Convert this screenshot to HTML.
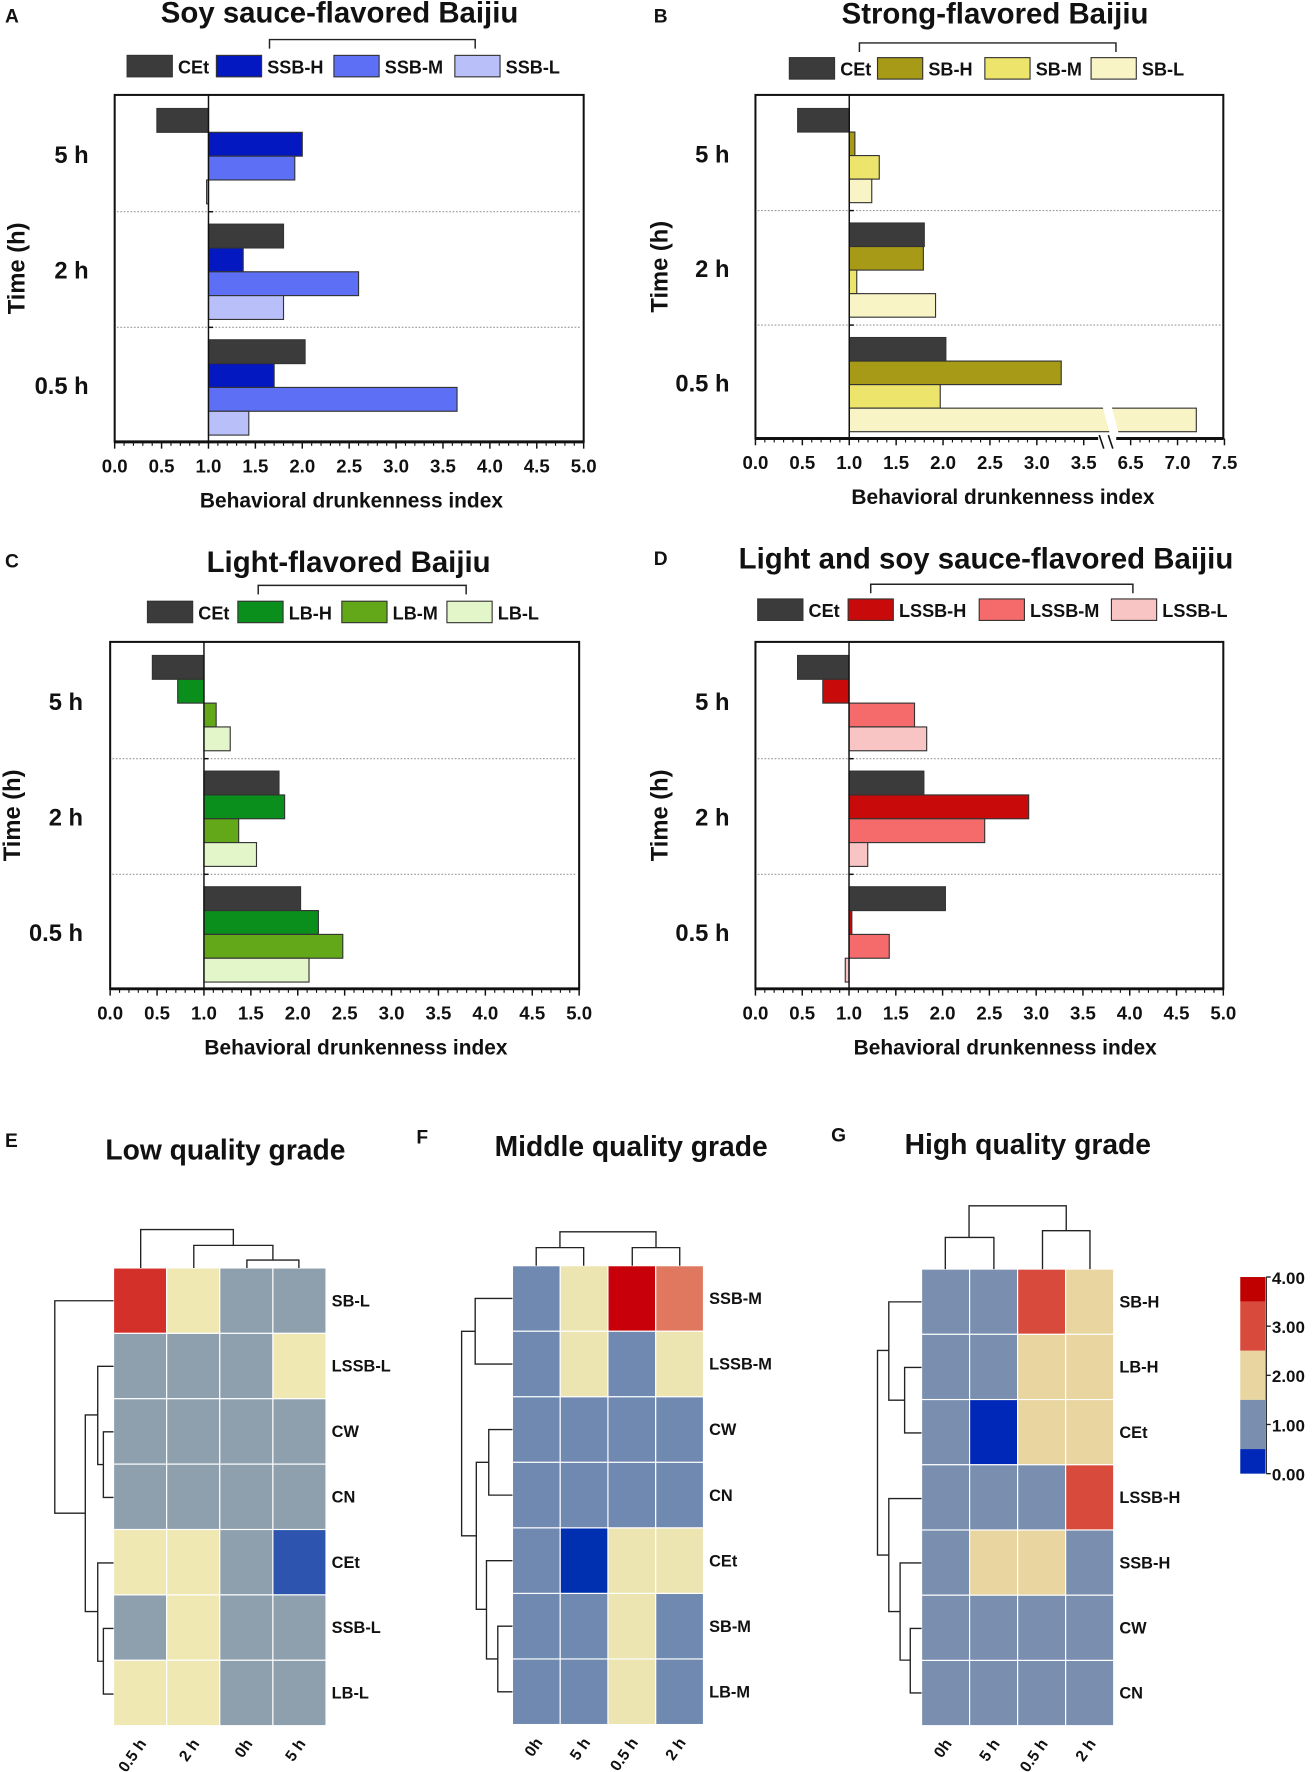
<!DOCTYPE html>
<html><head><meta charset="utf-8"><style>
html,body{margin:0;padding:0;background:#fff}
svg{display:block;font-family:"Liberation Sans",Arial,sans-serif}
text{font-weight:bold;fill:#111}
</style></head><body>
<svg id="fig" width="1312" height="1772" viewBox="0 0 1160 1568" xmlns="http://www.w3.org/2000/svg"></svg>
<script>
// ---------- Bar chart data ----------
const timeLabels = ["5 h","2 h","0.5 h"];
const seriesA = ["CEt","SSB-H","SSB-M","SSB-L"];
const valsA = [[0.45,2.0,1.92,0.98],[1.8,1.37,2.6,1.8],[2.03,1.7,3.65,1.43]];
const seriesB = ["CEt","SB-H","SB-M","SB-L"];
const valsB = [[0.45,1.06,1.32,1.24],[1.8,1.79,1.08,1.92],[2.03,3.26,1.97,7.2]];
const seriesC = ["CEt","LB-H","LB-M","LB-L"];
const valsC = [[0.45,0.72,1.13,1.28],[1.8,1.86,1.37,1.56],[2.03,2.22,2.48,2.12]];
const seriesD = ["CEt","LSSB-H","LSSB-M","LSSB-L"];
const valsD = [[0.45,0.72,1.7,1.83],[1.8,2.92,2.45,1.2],[2.03,1.03,1.43,0.96]];
const ticksStd = [0,0.5,1,1.5,2,2.5,3,3.5,4,4.5,5];
const ticksB = [0,0.5,1,1.5,2,2.5,3,3.5,6.5,7,7.5];
// ---------- Heatmap data ----------
const rowsE = ["SB-L","LSSB-L","CW","CN","CEt","SSB-L","LB-L"];
const colsE = ["0.5 h","2 h","0h","5 h"];
const valsE = [[3.2,1.9,1,1],[1,1,1,1.9],[1,1,1,1],[1,1,1,1],[2.0,1.8,1,0.45],[1.43,1.8,1,0.98],[2.12,1.56,1,1.28]];
const rowsF = ["SSB-M","LSSB-M","CW","CN","CEt","SB-M","LB-M"];
const colsF = ["0h","5 h","0.5 h","2 h"];
const valsF = [[1,1.92,3.65,2.6],[1,1.7,1.43,2.45],[1,1,1,1],[1,1,1,1],[1,0.3,2.03,1.8],[1,1.32,1.97,1.08],[1,1.13,2.48,1.37]];
const rowsG = ["SB-H","LB-H","CEt","LSSB-H","SSB-H","CW","CN"];
const colsG = ["0h","5 h","0.5 h","2 h"];
const valsG = [[1,1.06,3.26,1.79],[1,0.72,2.22,1.86],[1,0.3,2.03,1.8],[1,0.72,1.03,2.92],[1,2.0,1.7,1.37],[1,1,1,1],[1,1,1,1]];
const cbTicks = [4,3,2,1,0];

const NS="http://www.w3.org/2000/svg";
const svg=document.getElementById('fig');
function mk(tag,attrs,parent){const e=document.createElementNS(NS,tag);for(const k in attrs)e.setAttribute(k,attrs[k]);(parent||svg).appendChild(e);return e;}
function txt(s,x,y,size,anchor,parent,extra){const t=mk('text',Object.assign({x:x,y:y,'font-size':size,'text-anchor':anchor||'start'},extra||{}),parent);t.textContent=s;return t;}

function barPanel(o){
  const g=mk('g',{});
  
  
  const L=txt(o.letter,o.lx,o.ly,17,'start',g);
  
  
  const T=txt(o.title,o.tx,o.ty,26,'middle',g);
  
  
  mk('path',{d:`M${o.br[0]},${o.br[2]+8} V${o.br[2]} H${o.br[1]} V${o.br[2]+8}`,fill:'none',stroke:'#222','stroke-width':1.3},g);
  o.series.forEach((s,i)=>{
    const lg=mk('g',{},g);
    
    
    mk('rect',{x:o.legX[i],y:o.legY,width:40,height:19,fill:o.colors[i],stroke:'#333','stroke-width':1},lg);
    txt(s,o.legX[i]+45,o.legY+16,16,'start',lg);
  });
  const X0=o.x0,X1=o.x1,Y0=o.y0,Y1=o.y1,H=Y1-Y0;
  const xs=o.xs;
  [1,2].forEach(k=>{
    const yy=Y0+k*H/3+1;
    const ln=mk('line',{x1:X0+2,x2:X1-2,y1:yy,y2:yy,stroke:'#999','stroke-width':1,'stroke-dasharray':'1.5,1.5'},g);
    
    
  });
  const bh=(H/3-18)/4;
  o.vals.forEach((row,gi)=>{
    row.forEach((v,si)=>{
      const y=Y0+gi*H/3+12+si*bh;
      const xa=xs(1),xb=xs(v);
      const r=mk('rect',{x:Math.min(xa,xb),y:y,width:Math.max(1,Math.abs(xb-xa)),height:bh,fill:o.colors[si],stroke:'#333','stroke-width':1},g);
      
      
      if(o.breakAt && v>o.breakAt[1]){
        const bx=(xs(o.breakAt[0])+xs(o.breakAt[1]))/2;
        mk('polygon',{points:`${bx-6},${y-1} ${bx+2},${y-1} ${bx+8},${y+bh+1} ${bx},${y+bh+1}`,fill:'#fff'},g);
      }
    });
  });
  mk('line',{x1:xs(1),x2:xs(1),y1:Y0,y2:Y1,stroke:'#111','stroke-width':1.3},g);
  [1,2].forEach(k=>{const yy=Y0+k*H/3+1;mk('line',{x1:xs(1),x2:xs(1)+4,y1:yy,y2:yy,stroke:'#111','stroke-width':1.3},g);});
  const fr=mk('rect',{x:X0,y:Y0,width:X1-X0,height:H,fill:'none',stroke:'#111','stroke-width':1.8},g);
  
  
  mk('line',{x1:X0,x2:X1,y1:Y1,y2:Y1,stroke:'#111','stroke-width':2.6},g);
  const ax=mk('g',{},g);
  
  
  o.ticks.forEach((t,i)=>{
    const x=xs(t);
    mk('line',{x1:x,x2:x,y1:Y1,y2:Y1+6,stroke:'#111','stroke-width':1.3},ax);
    txt(t.toFixed(1),x,Y1+27,16.5,'middle',ax);
    if(i<o.ticks.length-1 && o.ticks[i+1]-t<1){
      const n=o.ticks[i+1];
      for(let m=1;m<5;m++){const xm=xs(t+(n-t)*m/5);mk('line',{x1:xm,x2:xm,y1:Y1,y2:Y1+3.5,stroke:'#111','stroke-width':1},ax);}
    }
  });
  if(o.breakAt){
    const bx=(xs(3.5)+xs(6.5))/2;
    mk('rect',{x:bx-8,y:Y1-2,width:16,height:12,fill:'#fff'},g);
    mk('line',{x1:bx-7,x2:bx-3,y1:Y1-3,y2:Y1+9,stroke:'#111','stroke-width':1.4},g);
    mk('line',{x1:bx+1,x2:bx+5,y1:Y1-3,y2:Y1+9,stroke:'#111','stroke-width':1.4},g);
  }
  const xt=txt('Behavioral drunkenness index',(X0+X1)/2+o.xtOff,Y1+58,18.5,'middle',g);
  
  
  timeLabels.forEach((s,gi)=>{
    const yl=txt(s,o.ylx,Y0+gi*H/3+H/6+9,21,'end',g);
    
    
  });
  const yt=txt('Time (h)',0,0,21,'middle',g,{transform:`translate(${o.ytx},${(Y0+Y1)/2}) rotate(-90)`});
  
  
}

function lin(x0,px0,ppu){return v=>px0+(v-x0)*ppu;}
barPanel({name:'panel-a-soy-sauce',letter:'A',lx:4,ly:20,title:'Soy sauce-flavored Baijiu',tx:300,ty:20,br:[238,420,35],
  series:seriesA,vals:valsA,colors:['#3b3b3b','#0418c2','#5c6ff5','#b9bff9'],legX:[112,191,295,402],legY:49,
  x0:101,x1:516,y0:84,y1:391,xs:lin(0,101,83),ticks:ticksStd,ylx:78,ytx:21,xtOff:2});
const xsB=v=> v<=5 ? 668+83*v : 1000+83*(v-6.5);
barPanel({name:'panel-b-strong',letter:'B',lx:578,ly:20,title:'Strong-flavored Baijiu',tx:880,ty:21,br:[760,987,38],
  series:seriesB,vals:valsB,colors:['#3b3b3b','#a69a16','#ede46c','#f8f4c6'],legX:[698,776,871,965],legY:51,
  x0:668,x1:1082,y0:84,y1:388,xs:xsB,ticks:ticksB,ylx:645,ytx:590,xtOff:12,breakAt:[3.75,6.3]});
barPanel({name:'panel-c-light',letter:'C',lx:4,ly:502,title:'Light-flavored Baijiu',tx:308,ty:506,br:[228,412,518],
  series:seriesC,vals:valsC,colors:['#3b3b3b','#0a8f1c','#62a818','#e3f6c9'],legX:[130,210,302,395],legY:532,
  x0:97,x1:512,y0:568,y1:875,xs:lin(0,97,83),ticks:ticksStd,ylx:73,ytx:17,xtOff:10});
barPanel({name:'panel-d-light-soy',letter:'D',lx:578,ly:500,title:'Light and soy sauce-flavored Baijiu',tx:872,ty:503,br:[770,1002,517],
  series:seriesD,vals:valsD,colors:['#3b3b3b','#c80a0a','#f56b6b','#f9c4c4'],legX:[670,750,866,983],legY:530,
  x0:668,x1:1082,y0:568,y1:875,xs:lin(0,668,82.8),ticks:ticksStd,ylx:645,ytx:590,xtOff:14});

// ---------- Heatmaps ----------
function binIdx(v){return v<0.5?0:v<1.5?1:v<2.5?2:v<3.5?3:4;}
function heat(o){
  const g=mk('g',{});
  
  
  const L=txt(o.letter,o.lx,o.ly,17,'start',g);
  
  
  const T=txt(o.title,o.tx,o.ty,25,'middle',g);
  
  
  const cw=(o.x1-o.x0)/o.cols.length, ch=(o.y1-o.y0)/o.rows.length;
  o.vals.forEach((row,ri)=>row.forEach((v,ci)=>{
    const c=mk('rect',{x:o.x0+ci*cw,y:o.y0+ri*ch,width:cw,height:ch,fill:o.pal[binIdx(v)],stroke:'#fff','stroke-width':1},g);
    
    
  }));
  o.rows.forEach((r,ri)=>{
    const t=txt(r,o.x1+5,o.y0+ri*ch+ch/2+5,14.5,'start',g);
    
    
  });
  o.cols.forEach((c,ci)=>{
    const cx=o.x0+ci*cw+cw/2+6;
    const t=txt(c,0,0,14,'end',g,{transform:`translate(${cx},${o.y1+16}) rotate(-55)`});
    
    
  });
  const d=mk('path',{d:o.colD+' '+o.rowD,fill:'none',stroke:'#222','stroke-width':1.2},g);
  
  
}
heat({name:'heatmap-e-low',letter:'E',lx:4,ly:1015,title:'Low quality grade',tx:199,ty:1026,
  rows:rowsE,cols:colsE,vals:valsE,x0:100,x1:288,y0:1122,y1:1527,
  pal:['#2d55b0','#8e9fae','#efe8b3','#d3302a','#c00000'],
  colD:'M218,1122 V1115 H264 V1122 M171,1122 V1102 H241 V1115 M124,1122 V1088 H206 V1102',
  rowD:'M100,1267 H91 V1325 H100 M100,1209 H86 V1296 H91 M100,1441 H91 V1499 H100 M100,1383 H86 V1470 H91 M86,1252 H75 V1426 H86 M100,1151 H48 V1339 H75'});
heat({name:'heatmap-f-middle',letter:'F',lx:368,ly:1012,title:'Middle quality grade',tx:558,ty:1023,
  rows:rowsF,cols:colsF,vals:valsF,x0:453,x1:622,y0:1120,y1:1526,
  pal:['#0030b0','#6f89b0','#ece4b1','#e07860','#c8000a'],
  colD:'M474,1120 V1104 H516 V1120 M559,1120 V1104 H601 V1120 M495,1104 V1090 H580 V1104',
  rowD:'M453,1149 H420 V1207 H453 M453,1265 H432 V1323 H453 M453,1439 H440 V1497 H453 M453,1381 H430 V1468 H440 M432,1294 H421 V1424 H430 M420,1178 H408 V1359 H421'});
heat({name:'heatmap-g-high',letter:'G',lx:735,ly:1010,title:'High quality grade',tx:909,ty:1021,
  rows:rowsG,cols:colsG,vals:valsG,x0:815,x1:985,y0:1123,y1:1527,
  pal:['#0028b8','#7a8fb0','#e8d5a0','#d84b3c','#c00000'],
  colD:'M836,1123 V1095 H879 V1123 M922,1123 V1089 H964 V1123 M857,1095 V1067 H943 V1089',
  rowD:'M815,1210 H800 V1268 H815 M815,1152 H786 V1239 H800 M815,1441 H805 V1498 H815 M815,1383 H796 V1469 H805 M815,1326 H786 V1426 H796 M786,1195 H776 V1376 H786'});

// ---------- Colorbar ----------
(function(){
  const g=mk('g',{});
  
  
  const cols=['#c00000','#d84b3c','#e8d5a0','#7a8fb0','#0028b8'];
  const yT=1130,yB=1304,unit=(yB-yT)/4;
  const bands=[[4,3.5],[3.5,2.5],[2.5,1.5],[1.5,0.5],[0.5,0]];
  const ys=v=>yB-v*unit;
  bands.forEach((b,i)=>mk('rect',{x:1097,y:ys(b[0]),width:22,height:ys(b[1])-ys(b[0]),fill:cols[i]},g));
  mk('line',{x1:1120,x2:1120,y1:yT,y2:yB,stroke:'#222','stroke-width':1.2},g);
  cbTicks.forEach(t=>{mk('line',{x1:1120,x2:1124,y1:ys(t),y2:ys(t),stroke:'#222','stroke-width':1.2},g);txt(t.toFixed(2),1125,ys(t)+6,15,'start',g);});
})();
</script>
</body></html>
